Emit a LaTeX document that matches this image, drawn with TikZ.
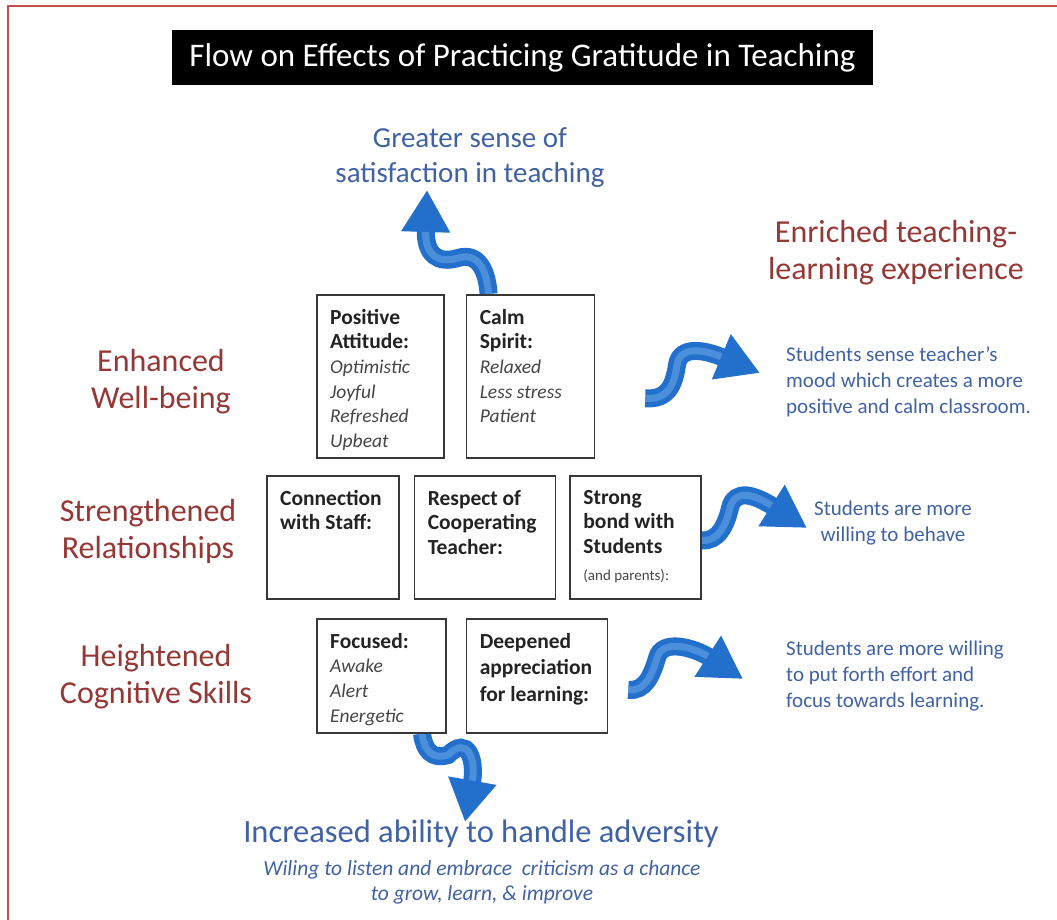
\documentclass[tikz,border=0pt]{standalone}
\usepackage{fontspec}
\setmainfont{Carlito}
\usepackage{tikz}
\usepackage{xcolor}
\usetikzlibrary{arrows.meta, positioning, calc, backgrounds}
\definecolor{cFrame}{RGB}{192,80,77}
\definecolor{cMaroon}{RGB}{149,55,53}
\definecolor{cBlueTxt}{RGB}{64,98,165}
\definecolor{cRibbon}{RGB}{34,112,204}
\definecolor{cRibbonHi}{RGB}{125,182,238}
\definecolor{cBoxLine}{RGB}{55,55,55}
\definecolor{cInk}{RGB}{35,35,35}
\definecolor{cSoft}{RGB}{70,70,70}
\tikzset{
	titlebox/.style ={rectangle, fill=black, text=white, minimum width=701pt, minimum height=55pt, font=\fontsize{33}{36}\selectfont},
	effect/.style   ={align=center, text=cMaroon, font=\fontsize{32}{37}\selectfont},
	outcome/.style  ={align=center, text=cBlueTxt, font=\fontsize{29}{35}\selectfont},
	note/.style     ={text=cBlueTxt, font=\fontsize{21}{26}\selectfont, inner sep=0pt},
	redframe/.style ={cFrame, line width=2.5pt},
	% boxes
	card/.style     ={rectangle, draw=cBoxLine, line width=1.6pt, fill=white, inner sep=0pt},
	cardtext/.style ={align=left, text=cInk, font=\fontsize{21.5}{24.6}\selectfont, inner sep=0pt, anchor=north west},
	% ribbon arrows
	ribbon/.style   ={line width=18pt, cRibbon, -{Triangle[width=46pt, length=42pt]}},
	ribbonhi/.style ={line width=7pt, cRibbonHi, opacity=0.45, shorten >=42pt},
}
\newcommand{\itl}[1]{{\fontsize{19.5}{24.6}\selectfont\itshape\color{cSoft}#1}}
\begin{document}
\begin{tikzpicture}[x=1pt, y=1pt]
	\useasboundingbox (0,0) rectangle (1057,920);
	\draw[redframe] (8,-20) rectangle (1090,914);

	\node[titlebox] (title) at (522.5,862.5) {Flow on Effects of Practicing Gratitude in Teaching};

	% effect headings
	\node[effect] (wellb) at (161,538) {Enhanced\\Well-being};
	\node[effect] (relat) at (148,389) {Strengthened\\Relationships};
	\node[effect] (cogn) at (156,243) {Heightened\\Cognitive Skills};
	\node[effect] (enrich) at (896,667) {Enriched teaching-\\learning experience};

	% outcomes
	\node[outcome] (satis) at (470,762) {Greater sense of\\satisfaction in teaching};
	\node[outcome, font=\fontsize{32.5}{36}\selectfont] (advers) at (481,86) {Increased ability to handle adversity};
	\node[note, align=center, font=\itshape\fontsize{21.5}{25}\selectfont] (adnote) at (482,38) {Wiling to listen and embrace\ \ criticism as a chance\\to grow, learn, \& improve};
	\node[note, align=left, anchor=west] (mood) at (786,538) {Students sense teacher's\\mood which creates a more\\positive and calm classroom.};
	\node[note, align=center] (behave) at (893,397) {Students are more\\willing to behave};
	\node[note, align=left, anchor=west] (effort) at (786,244) {Students are more willing\\to put forth effort and\\focus towards learning.};

	% boxes
	\node[card, minimum width=127pt, minimum height=163pt, anchor=north west] (p1) at (316,626) {};
	\node[card, minimum width=128pt, minimum height=163pt, right=21pt of p1] (p2) {};
	\node[card, minimum width=132pt, minimum height=123pt, anchor=north west] (r1) at (266,445) {};
	\node[card, minimum width=141pt, minimum height=123pt, right=14pt of r1] (r2) {};
	\node[card, minimum width=131pt, minimum height=123pt, right=13pt of r2] (r3) {};
	\node[card, minimum width=129pt, minimum height=114pt, anchor=north west] (c1) at (316,302) {};
	\node[card, minimum width=141pt, minimum height=114pt, right=19pt of c1] (c2) {};

	\node[cardtext, below right=15pt and 14pt of p1.north west] (p1t) {\textbf{Positive}\\\textbf{Attitude:}\\\itl{Optimistic}\\\itl{Joyful}\\\itl{Refreshed}\\\itl{Upbeat}};
	\node[cardtext, below right=15pt and 14pt of p2.north west] (p2t) {\textbf{Calm}\\\textbf{Spirit:}\\\itl{Relaxed}\\\itl{Less stress}\\\itl{Patient}};
	\node[cardtext, below right=15pt and 14pt of r1.north west] (r1t) {\textbf{Connection}\\\textbf{with Staff:}};
	\node[cardtext, below right=15pt and 14pt of r2.north west] (r2t) {\textbf{Respect of}\\\textbf{Cooperating}\\\textbf{Teacher:}};
	\node[cardtext, below right=15pt and 14pt of r3.north west] (r3t) {\textbf{Strong}\\\textbf{bond with}\\\textbf{Students}\\[2pt]{\fontsize{15}{18}\selectfont\color{cSoft}(and parents):}};
	\node[cardtext, below right=15pt and 14pt of c1.north west] (c1t) {\textbf{Focused:}\\\itl{Awake}\\\itl{Alert}\\\itl{Energetic}};
	\node[cardtext, below right=15pt and 14pt of c2.north west, font=\fontsize{21.5}{26.5}\selectfont] (c2t) {\textbf{Deepened}\\\textbf{appreciation}\\\textbf{for learning:}};

	% ribbon ends
	\coordinate (sTail) at ([xshift=23pt]p2.north west);
	\coordinate (sTip) at ([xshift=-43pt,yshift=-32pt]satis.center);
	\coordinate (mTail) at ([xshift=50pt,yshift=-22pt]p2.east);
	\coordinate (mTip) at ([xshift=-26pt,yshift=9pt]mood.west);
	\coordinate (bTail) at ([yshift=-3pt]r3.east);
	\coordinate (bTip) at ([xshift=-86pt,yshift=-5pt]behave.center);
	\coordinate (eTail) at ([xshift=20pt,yshift=-14pt]c2.east);
	\coordinate (eTip) at ([xshift=-43pt,yshift=-3pt]effort.west);
	\coordinate (aTail) at ([xshift=106pt]c1.south west);
	\coordinate (aTip) at ([xshift=-16pt,yshift=12pt]advers.center);

	\begin{scope}[on background layer]
		\draw[ribbon] (sTail) .. controls (487,650) and (478,668) .. (458,662) .. controls (438,656) and (425,665) .. (sTip);
		\draw[ribbon] (mTail) .. controls (668,520) and (674,535) .. (677,555) .. controls (680,575) and (705,570) .. (mTip);
		\draw[ribbon] (bTail) .. controls (718,378) and (726,395) .. (730,412) .. controls (735,432) and (755,425) .. (bTip);
		\draw[ribbon] (eTail) .. controls (645,228) and (652,245) .. (657,262) .. controls (662,282) and (695,272) .. (eTip);
		\draw[ribbon] (aTail) .. controls (424,170) and (432,160) .. (448,165) .. controls (468,185) and (476,160) .. (aTip);
		% light streak along each ribbon
		\draw[ribbonhi] (sTail) .. controls (487,650) and (478,668) .. (458,662) .. controls (438,656) and (425,665) .. (sTip);
		\draw[ribbonhi] (mTail) .. controls (668,520) and (674,535) .. (677,555) .. controls (680,575) and (705,570) .. (mTip);
		\draw[ribbonhi] (bTail) .. controls (718,378) and (726,395) .. (730,412) .. controls (735,432) and (755,425) .. (bTip);
		\draw[ribbonhi] (eTail) .. controls (645,228) and (652,245) .. (657,262) .. controls (662,282) and (695,272) .. (eTip);
		\draw[ribbonhi] (aTail) .. controls (424,170) and (432,160) .. (448,165) .. controls (468,185) and (476,160) .. (aTip);
	\end{scope}
\end{tikzpicture}
\end{document}
